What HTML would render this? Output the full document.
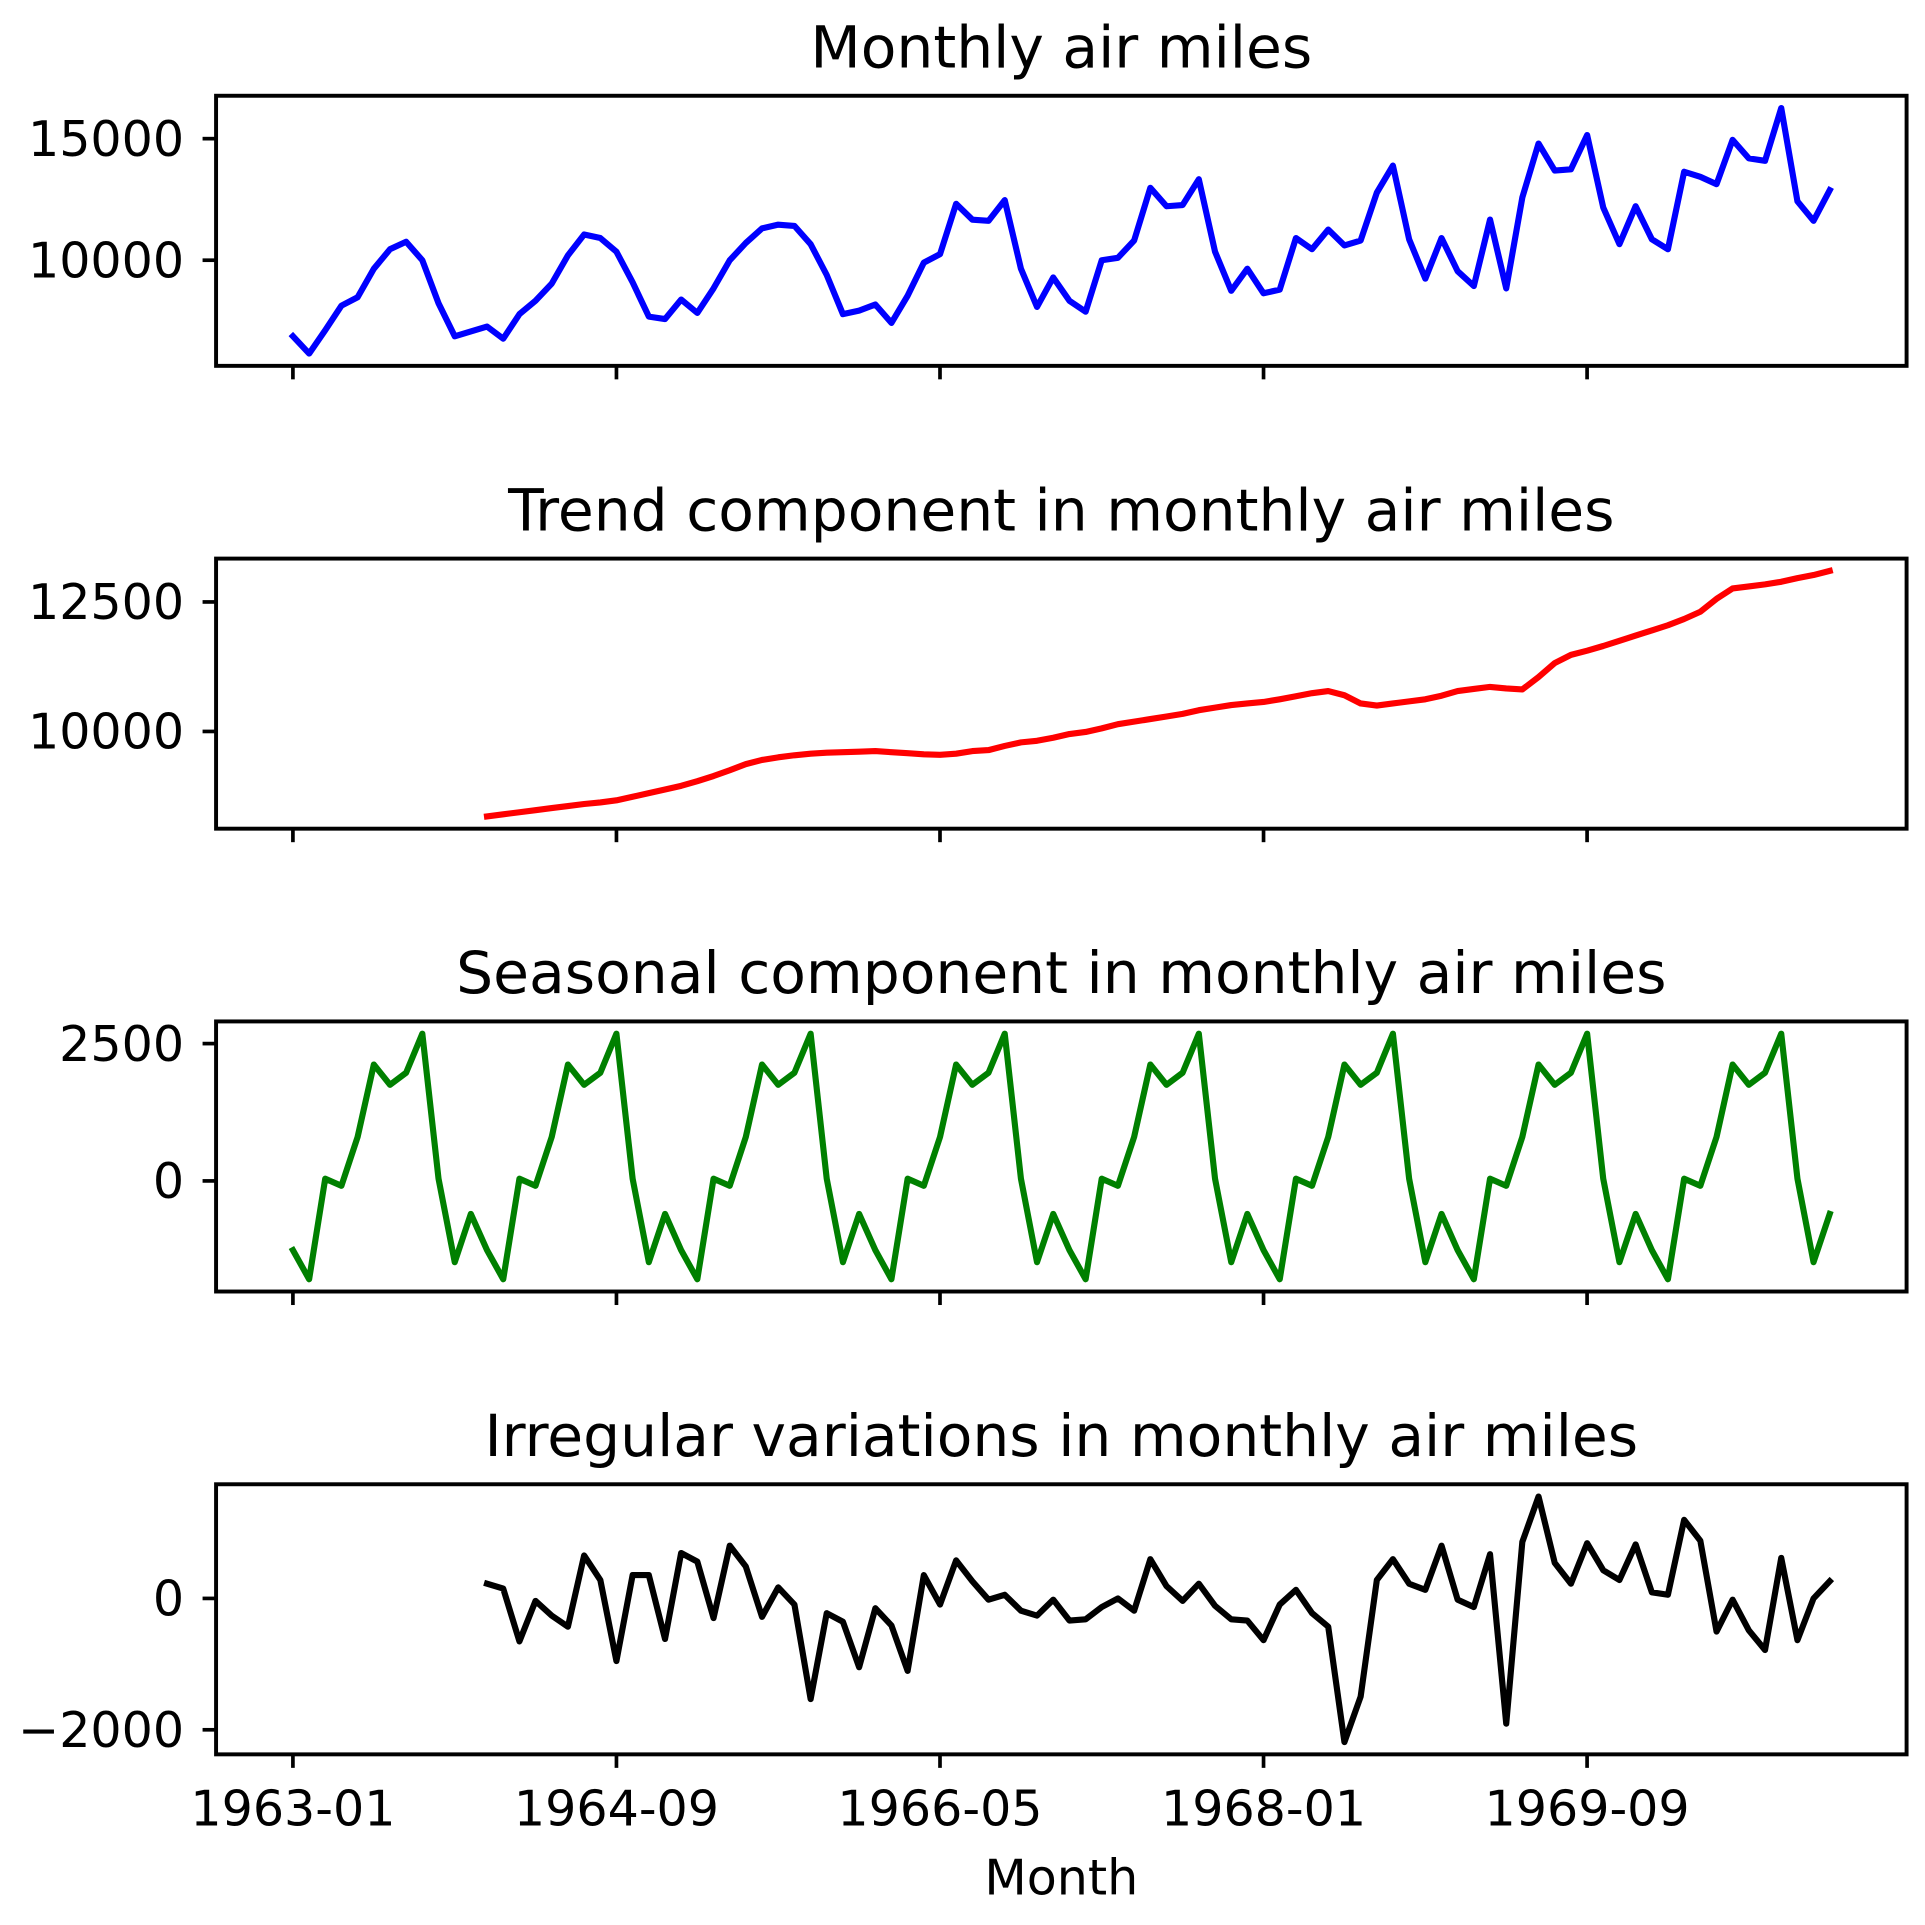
<!DOCTYPE html>
<html><head><meta charset="utf-8"><style>
html,body{margin:0;padding:0;background:#fff;}
svg{display:block;font-family:"DejaVu Sans","Liberation Sans",sans-serif;}
</style></head><body>
<svg id="chart" width="1925" height="1925" viewBox="0 0 1568 1568" xmlns="http://www.w3.org/2000/svg"></svg>
<script>
const xTickIdx = [0, 20, 40, 60, 80];
const xTickLabels = ["1963-01", "1964-09", "1966-05", "1968-01", "1969-09"];
const airMiles = [6870,6160,7120,8130,8480,9650,10450,10760,10000,8230,6870,7070,
7270,6770,7780,8330,9040,10200,11060,10910,10350,9090,7680,7580,
8380,7830,8840,10000,10710,11310,11460,11410,10660,9390,7780,7930,
8180,7420,8540,9900,10250,12320,11670,11620,12470,9650,8080,9290,
8330,7880,10000,10100,10810,12980,12220,12270,13330,10350,8740,9650,
8640,8790,10910,10450,11260,10610,10810,12780,13890,10860,9240,10910,
9550,8940,11670,8840,12580,14800,13690,13740,15150,12170,10660,12220,
10860,10450,13640,13430,13130,14950,14190,14090,16260,12420,11620,12880];
const trendStart = 12;
const trend = [8360,8400,8440,8480,8520,8560,8600,8630,8670,8740,8810,8880,
8950,9040,9140,9250,9370,9450,9500,9540,9570,9590,9600,9610,
9620,9600,9580,9560,9550,9570,9620,9640,9720,9790,9820,9880,
9950,9990,10060,10140,10190,10240,10290,10340,10410,10460,10510,10540,
10570,10620,10680,10740,10780,10700,10540,10500,10540,10580,10620,10690,
10780,10820,10860,10830,10810,11050,11320,11480,11560,11650,11750,11850,
11950,12050,12170,12310,12560,12760,12800,12840,12890,12960,13020,13100];
const seasonal = [-1260,-1790,40,-90,800,2120,1750,1970,2680,40,-1480,-600,
-1260,-1790,40,-90,800,2120,1750,1970,2680,40,-1480,-600,
-1260,-1790,40,-90,800,2120,1750,1970,2680,40,-1480,-600,
-1260,-1790,40,-90,800,2120,1750,1970,2680,40,-1480,-600,
-1260,-1790,40,-90,800,2120,1750,1970,2680,40,-1480,-600,
-1260,-1790,40,-90,800,2120,1750,1970,2680,40,-1480,-600,
-1260,-1790,40,-90,800,2120,1750,1970,2680,40,-1480,-600,
-1260,-1790,40,-90,800,2120,1750,1970,2680,40,-1480,-600];
const irregularStart = 12;
const irregular = [224,150,-654,-37,-262,-430,654,280,-953,355,355,-617,
692,561,-299,804,486,-280,168,-93,-1533,-224,-355,-1047,
-150,-411,-1103,355,-93,579,262,-19,56,-187,-262,-19,
-336,-318,-131,0,-187,598,187,-37,224,-112,-318,-336,
-636,-93,131,-224,-430,-2187,-1495,280,598,224,131,804,
-19,-131,673,-1907,860,1551,542,224,841,430,280,822,
93,56,1196,879,-505,-19,-486,-785,617,-636,0,262];
const yTicks1 = [10000, 15000];
const yTicks2 = [10000, 12500];
const yTicks3 = [0, 2500];
const yTicks4 = [-2000, 0];
const titles = ["Monthly air miles","Trend component in monthly air miles","Seasonal component in monthly air miles","Irregular variations in monthly air miles"];

const NS = "http://www.w3.org/2000/svg";
const svg = document.getElementById("chart");
function mk(tag, attrs, parent){const e=document.createElementNS(NS,tag);for(const k in attrs)e.setAttribute(k,attrs[k]);(parent||svg).appendChild(e);return e;}

const L = 176, R = 1553, nMonths = airMiles.length;
const xMin = -0.05*(nMonths-1), xMax = (nMonths-1)*1.05;
function xScale(i){return L + (i - xMin)/(xMax - xMin)*(R - L);}

const panels = [
  {top:78, vals:airMiles, start:0, color:"#0000ff", ticks:yTicks1, name:"air-miles"},
  {top:455, vals:trend, start:trendStart, color:"#ff0000", ticks:yTicks2, name:"trend"},
  {top:832, vals:seasonal, start:0, color:"#008000", ticks:yTicks3, name:"seasonal"},
  {top:1209, vals:irregular, start:irregularStart, color:"#000000", ticks:yTicks4, name:"irregular"}
];
const H = 220;
const fmt = v => (v<0?"\u2212":"") + Math.abs(v);

panels.forEach((p, k) => {
  const g = mk("g", {});
  
  
  const mn = Math.min(...p.vals), mx = Math.max(...p.vals), pad = (mx-mn)*0.05;
  const lo = mn - pad, hi = mx + pad;
  const yScale = v => p.top + H - (v - lo)/(hi - lo)*H;
  const t = mk("text", {x:(L+R)/2, y:p.top-23, "text-anchor":"middle", "font-size":"47.5", fill:"#000"}, g);
  t.textContent = titles[k];
  
  
  const pts = p.vals.map((v,i)=>xScale(i+p.start).toFixed(1)+","+yScale(v).toFixed(1)).join(" ");
  const line = mk("polyline", {points:pts, fill:"none", stroke:p.color, "stroke-width":"5", "stroke-linejoin":"round", "stroke-linecap":"square"}, g);
  
  
  const frame = mk("rect", {x:L, y:p.top, width:R-L, height:H, fill:"none", stroke:"#000", "stroke-width":"3.2"}, g);
  
  
  p.ticks.forEach(v => {
    const y = yScale(v);
    mk("line", {x1:L-11, x2:L, y1:y, y2:y, stroke:"#000", "stroke-width":"3"}, g);
    const tl = mk("text", {x:L-26, y:y+14, "text-anchor":"end", "font-size":"40", fill:"#000"}, g);
    tl.textContent = fmt(v);
    
    
  });
  xTickIdx.forEach((i, j) => {
    const x = xScale(i);
    mk("line", {x1:x, x2:x, y1:p.top+H, y2:p.top+H+11, stroke:"#000", "stroke-width":"3"}, g);
    if (k === 3) {
      const xl = mk("text", {x:x, y:p.top+H+58, "text-anchor":"middle", "font-size":"40", fill:"#000"}, g);
      xl.textContent = xTickLabels[j];
      
      
    }
  });
});
const xt = mk("text", {x:(L+R)/2, y:1543, "text-anchor":"middle", "font-size":"40", fill:"#000"});
xt.textContent = "Month";


</script>
</body></html>
